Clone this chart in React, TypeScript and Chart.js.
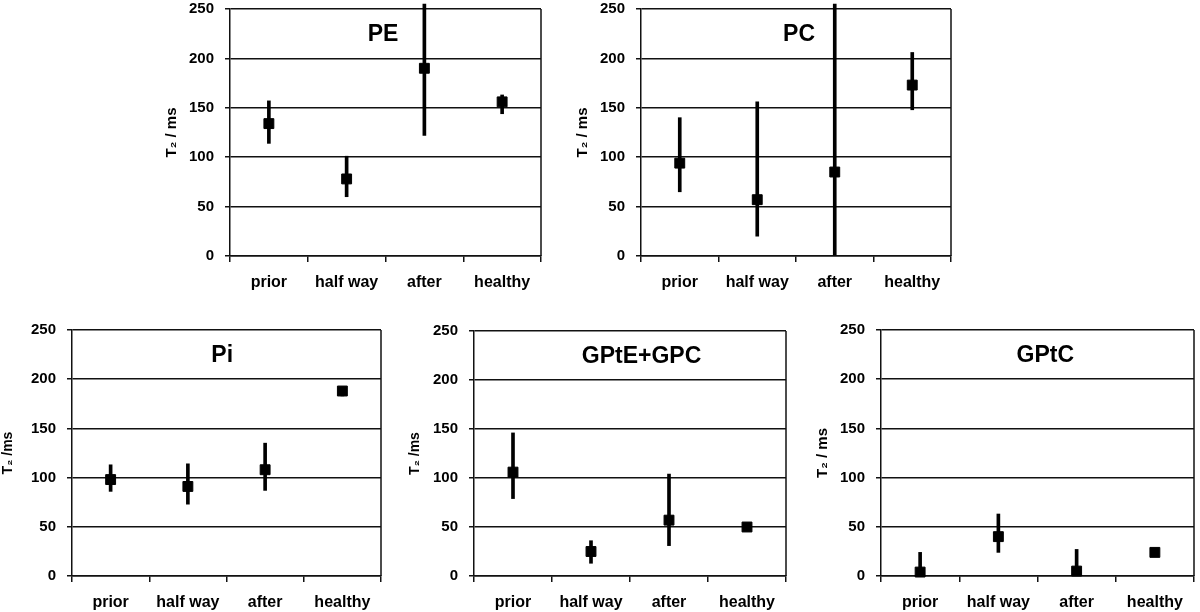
import React, { useEffect, useRef } from 'react';
import { Chart, registerables } from 'chart.js';

Chart.register(...registerables);

// ---------- data ----------
const categories = ['prior', 'half way', 'after', 'healthy'];

const peMean = [134, 78, 190, 156];
const peLow = [114, 60, 122, 144];
const peHigh = [157, 101, 255, 163];

const pcMean = [94, 57, 85, 173];
const pcLow = [65, 20, 0, 148];
const pcHigh = [140, 156, 255, 206];

const piMean = [98, 91, 108, 188];
const piLow = [86, 73, 87, 183];
const piHigh = [113, 114, 135, 192];

const gpteMean = [106, 25, 57, 50];
const gpteLow: (number | null)[] = [79, 13, 31, null];
const gpteHigh: (number | null)[] = [146, 36, 104, null];

const gptcMean = [4, 40, 5, 24];
const gptcLow: (number | null)[] = [0, 24, 0, null];
const gptcHigh: (number | null)[] = [24, 63, 27, null];

const yMin = 0;
const yMax = 250;
const yStep = 50;

// ---------- styling ----------
const FONT = '"Liberation Sans", Arial, Helvetica, sans-serif';
const LINE = '#111';

const decorPlugin = {
  id: 'panelDecor',
  afterDraw(chart: any, _args: any, opts: any) {
    const { ctx, chartArea } = chart;
    ctx.save();
    ctx.strokeStyle = LINE;
    ctx.lineWidth = 1.5;
    ctx.beginPath();
    ctx.moveTo(chartArea.right, chartArea.top);
    ctx.lineTo(chartArea.right, chartArea.bottom);
    ctx.stroke();
    ctx.font = `bold 23px ${FONT}`;
    ctx.fillStyle = '#000';
    ctx.textAlign = 'center';
    ctx.textBaseline = 'middle';
    ctx.fillText(
      opts.text,
      chartArea.left + opts.xFrac * (chartArea.right - chartArea.left),
      chartArea.top + opts.yOffset
    );
    ctx.restore();
  },
};

type PanelProps = {
  title: string;
  yTitle: string;
  yTitleSize: number;
  mean: number[];
  low: (number | null)[];
  high: (number | null)[];
  L: number;
  T: number;
  R: number;
  B: number;
  yWidth: number;
  titleFrac: number;
};

const PAD_TOP = 24;
const PAD_RIGHT = 6;
const X_HEIGHT = 44;

function Panel(p: PanelProps) {
  const ref = useRef<HTMLCanvasElement | null>(null);
  const width = p.R - p.L + p.yWidth + PAD_RIGHT;
  const height = p.B - p.T + PAD_TOP + X_HEIGHT;

  useEffect(() => {
    if (!ref.current) return;
    const bars = p.low.map((l, i) => (l == null || p.high[i] == null ? null : [l, p.high[i] as number]));
    const chart = new Chart(ref.current, {
      type: 'bar',
      data: {
        labels: categories,
        datasets: [
          {
            type: 'line',
            data: p.mean,
            showLine: false,
            pointStyle: 'rect',
            pointRadius: 7,
            pointHoverRadius: 7,
            pointBackgroundColor: '#000',
            pointBorderColor: '#000',
            pointBorderWidth: 1,
            order: 0,
            clip: false,
          } as any,
          {
            type: 'bar',
            data: bars as any,
            backgroundColor: '#000',
            borderWidth: 0,
            barThickness: 3,
            order: 1,
            clip: false,
          } as any,
        ],
      },
      options: {
        responsive: false,
        animation: false,
        devicePixelRatio: 1,
        events: [],
        layout: { padding: { top: PAD_TOP, right: PAD_RIGHT, left: 0, bottom: 0 } },
        plugins: {
          legend: { display: false },
          tooltip: { enabled: false },
          panelDecor: { text: p.title, xFrac: p.titleFrac, yOffset: 25.5 },
        } as any,
        scales: {
          x: {
            type: 'category',
            offset: true,
            grid: {
              offset: true,
              drawOnChartArea: false,
              drawTicks: true,
              tickLength: 6,
              color: LINE,
              lineWidth: 1.5,
            },
            border: { display: true, color: LINE, width: 1.5 },
            ticks: {
              color: '#000',
              font: { family: FONT, size: 16, weight: 'bold', lineHeight: 2 },
              padding: 5,
              maxRotation: 0,
              autoSkip: false,
            },
            afterFit: (s: any) => {
              s.height = X_HEIGHT;
            },
          },
          y: {
            min: yMin,
            max: yMax,
            ticks: {
              stepSize: yStep,
              color: '#000',
              font: { family: FONT, size: 15, weight: 'bold' },
              padding: 11,
            },
            grid: { color: LINE, lineWidth: 1.5, tickLength: 5 },
            border: { display: true, color: LINE, width: 1.5 },
            title: {
              display: true,
              text: p.yTitle,
              color: '#000',
              font: { family: FONT, size: p.yTitleSize, weight: 'bold' },
              padding: { top: 0, bottom: 0 },
            },
            afterFit: (s: any) => {
              s.width = p.yWidth;
            },
          },
        } as any,
      },
      plugins: [decorPlugin as any],
    });
    return () => chart.destroy();
  }, []);

  return (
    <canvas
      ref={ref}
      width={width}
      height={height}
      style={{
        position: 'absolute',
        left: p.L - p.yWidth,
        top: p.T - PAD_TOP,
        width,
        height,
      }}
    />
  );
}

export default function App() {
  return (
    <div
      style={{
        position: 'absolute',
        left: 0,
        top: 0,
        width: 1200,
        height: 612,
        background: '#fff',
        overflow: 'hidden',
      }}
    >
      <Panel title="PE" yTitle="T₂ / ms" yTitleSize={15} mean={peMean} low={peLow} high={peHigh}
        L={230} T={9} R={543} B={256} yWidth={67} titleFrac={0.492} />
      <Panel title="PC" yTitle="T₂ / ms" yTitleSize={15} mean={pcMean} low={pcLow} high={pcHigh}
        L={641} T={9} R={953} B={256} yWidth={67} titleFrac={0.51} />
      <Panel title="Pi" yTitle="T₂ /ms" yTitleSize={14} mean={piMean} low={piLow} high={piHigh}
        L={72} T={330} R={383} B={576} yWidth={72} titleFrac={0.486} />
      <Panel title="GPtE+GPC" yTitle="T₂ /ms" yTitleSize={14} mean={gpteMean} low={gpteLow} high={gpteHigh}
        L={474} T={331} R={788} B={576} yWidth={67} titleFrac={0.537} />
      <Panel title="GPtC" yTitle="T₂ / ms" yTitleSize={15} mean={gptcMean} low={gptcLow} high={gptcHigh}
        L={881} T={330} R={1196} B={576} yWidth={67} titleFrac={0.525} />
    </div>
  );
}
